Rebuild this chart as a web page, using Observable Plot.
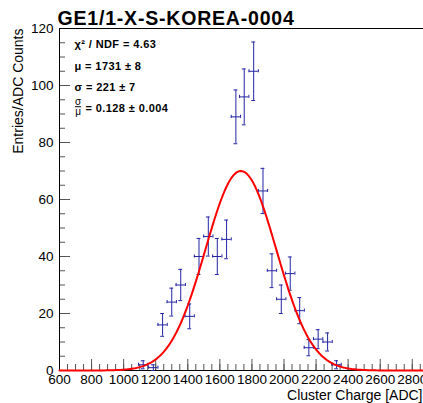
<!DOCTYPE html>
<html>
<head>
<meta charset="utf-8">
<script src="https://cdn.jsdelivr.net/npm/d3@7"></script>
<script src="https://cdn.jsdelivr.net/npm/@observablehq/plot@0.6"></script>
<style>
  html, body { margin: 0; padding: 0; background: #fff; overflow: hidden; }
</style>
</head>
<body>
<div id="chart"></div>
<script>
// ---- data ----
const title = "GE1/1-X-S-KOREA-0004";
const xLabel = "Cluster Charge [ADC]";
const yLabel = "Entries/ADC Counts";

const binCenters = [1122, 1185, 1243, 1300, 1356, 1412, 1470, 1528, 1584, 1642, 1700,
                    1752, 1811, 1869, 1925, 1983, 2039, 2098, 2155, 2213, 2272, 2328];
const counts     = [2, 1, 16, 24, 30, 19, 40, 47, 40, 46, 89,
                    96, 105, 63, 35, 25, 34, 21, 8, 11, 10, 2];
const binHalfWidth = 29;

const fitMu = 1731;
const fitSigma = 221;
const fitAmp = 70;

const statLines = ["χ² / NDF = 4.63", "μ = 1731 ± 8", "σ = 221 ± 7"];
const ratioText = "= 0.128 ± 0.004";

const xTickValues = [600, 800, 1000, 1200, 1400, 1600, 1800, 2000, 2200, 2400, 2600, 2800];
const yTickValues = [0, 20, 40, 60, 80, 100, 120];
const xDomain = [600, 2870];
const yDomain = [0, 120];

// ---- layout ----
const W = 423, H = 403;
const mL = 59, mR = 0, mT = 28, mB = 33;
const frameW = W - mL - mR, frameH = H - mT - mB;
const blue = "#2424a6";
const tickColor = "#555";
const font = "'Liberation Sans', Arial, Helvetica, sans-serif";

const points = binCenters.map((x, i) => ({x, n: counts[i]}));
const minorX = d3.range(xDomain[0], xDomain[1], 50);
const minorY = d3.range(0, 121, 5);
const curve = d3.range(xDomain[0], xDomain[1] + 1, 10).map(x => ({
  x, y: fitAmp * Math.exp(-0.5 * ((x - fitMu) / fitSigma) ** 2)
}));
const capX = 12;      // half width of vertical-bar caps (ADC)
const capY = 0.55;    // half height of horizontal-bar caps (counts)

const chart = Plot.plot({
  width: W, height: H,
  marginLeft: mL, marginRight: mR, marginTop: mT, marginBottom: mB,
  style: {fontFamily: font, fontSize: "13.5px", background: "#fff", color: "#000", overflow: "visible"},
  x: {domain: xDomain, ticks: xTickValues, tickSize: 0, tickPadding: 4, tickFormat: d => String(d), label: null},
  y: {domain: yDomain, ticks: yTickValues, tickSize: 0, tickPadding: 6, tickFormat: d => String(d), label: null},
  marks: [
    // ticks (inside the frame)
    Plot.tickX(minorX, {x: d => d, insetTop: frameH - 6, stroke: tickColor}),
    Plot.tickX(xTickValues, {x: d => d, insetTop: frameH - 11, stroke: tickColor}),
    Plot.tickY(minorY, {y: d => d, insetRight: frameW - 6, stroke: tickColor}),
    Plot.tickY(yTickValues, {y: d => d, insetRight: frameW - 11, stroke: tickColor}),
    // frame lines
    Plot.ruleY([yDomain[0], yDomain[1]], {stroke: "#000"}),
    Plot.ruleX([xDomain[0]], {stroke: "#000"}),
    // error bars
    Plot.ruleX(points, {x: "x", y1: d => d.n - Math.sqrt(d.n), y2: d => d.n + Math.sqrt(d.n), stroke: blue}),
    Plot.ruleY(points, {y: d => d.n - Math.sqrt(d.n), x1: d => d.x - capX, x2: d => d.x + capX, stroke: blue}),
    Plot.ruleY(points, {y: d => d.n + Math.sqrt(d.n), x1: d => d.x - capX, x2: d => d.x + capX, stroke: blue}),
    Plot.ruleY(points, {y: "n", x1: d => d.x - binHalfWidth, x2: d => d.x + binHalfWidth, stroke: blue}),
    Plot.ruleX(points, {x: d => d.x - binHalfWidth, y1: d => d.n - capY, y2: d => d.n + capY, stroke: blue}),
    Plot.ruleX(points, {x: d => d.x + binHalfWidth, y1: d => d.n - capY, y2: d => d.n + capY, stroke: blue}),
    // fit curve
    Plot.line(curve, {x: "x", y: "y", stroke: "#ff0000", strokeWidth: 2}),
    // title
    Plot.text([title], {text: d => d, frameAnchor: "top-left", dx: -2, dy: -4, textAnchor: "start",
      lineAnchor: "bottom", fontSize: 19.5, fontWeight: "bold", fill: "#000"}),
    // axis labels
    Plot.text([yLabel], {text: d => d, frameAnchor: "top-left", dx: -41, dy: 0, rotate: -90,
      textAnchor: "end", lineAnchor: "middle", fontSize: 14, fill: "#000"}),
    Plot.text([xLabel], {text: d => d, frameAnchor: "bottom-right", dx: -1, dy: 25,
      textAnchor: "end", lineAnchor: "middle", fontSize: 14, fill: "#000"}),
    // stats box
    ...statLines.map((s, i) => Plot.text([s], {text: d => d, frameAnchor: "top-left", dx: 15,
      dy: [16, 37.7, 59.3][i], textAnchor: "start", lineAnchor: "middle", fontSize: 11,
      fontWeight: "bold", fill: "#000"})),
    Plot.text(["σ"], {text: d => d, frameAnchor: "top-left", dx: 18.5, dy: 73.5, textAnchor: "middle",
      lineAnchor: "middle", fontSize: 10, fill: "#000"}),
    Plot.text(["μ"], {text: d => d, frameAnchor: "top-left", dx: 18.5, dy: 83, textAnchor: "middle",
      lineAnchor: "middle", fontSize: 10, fill: "#000"}),
    Plot.text([ratioText], {text: d => d, frameAnchor: "top-left", dx: 26, dy: 80.3, textAnchor: "start",
      lineAnchor: "middle", fontSize: 11, fontWeight: "bold", fill: "#000"})
  ]
});
// widen the ROOT-style bold texts slightly (letter spacing)
d3.select(chart).selectAll("text")
  .filter(function() { return this.textContent === title; })
  .style("letter-spacing", "0.8px");
d3.select(chart).selectAll("text")
  .filter(function() { return statLines.includes(this.textContent) || this.textContent === ratioText; })
  .style("letter-spacing", "0.4px");
// fraction bar of sigma/mu drawn as an underline of the numerator
d3.select(chart).selectAll("text")
  .filter(function() { return this.textContent === "σ"; })
  .style("text-decoration", "underline");
document.getElementById("chart").appendChild(chart);
</script>
</body>
</html>
